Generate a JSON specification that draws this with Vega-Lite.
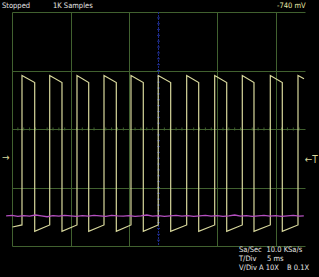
{
  "$schema": "https://vega.github.io/schema/vega-lite/v6.json",
  "width": 293,
  "height": 234,
  "autosize": "none",
  "padding": {"left": 12, "top": 12, "right": 14, "bottom": 31},
  "background": "#000000",
  "config": {"view": {"stroke": null}, "font": "'DejaVu Sans Condensed', 'Liberation Sans', sans-serif"},
  "datasets": {
    "chA": [
      {"i": 0, "x": 0.017, "y": -3.35},
      {"i": 1, "x": 0.341, "y": -3.28}, {"i": 2, "x": 0.341, "y": 1.83}, {"i": 3, "x": 0.775, "y": 1.59}, {"i": 4, "x": 0.775, "y": -3.5},
      {"i": 5, "x": 1.287, "y": -3.28}, {"i": 6, "x": 1.287, "y": 1.83}, {"i": 7, "x": 1.706, "y": 1.59}, {"i": 8, "x": 1.706, "y": -3.5},
      {"i": 9, "x": 2.218, "y": -3.28}, {"i": 10, "x": 2.218, "y": 1.83}, {"i": 11, "x": 2.618, "y": 1.59}, {"i": 12, "x": 2.618, "y": -3.5},
      {"i": 13, "x": 3.14, "y": -3.28}, {"i": 14, "x": 3.14, "y": 1.83}, {"i": 15, "x": 3.56, "y": 1.59}, {"i": 16, "x": 3.56, "y": -3.5},
      {"i": 17, "x": 4.061, "y": -3.28}, {"i": 18, "x": 4.061, "y": 1.83}, {"i": 19, "x": 4.481, "y": 1.59}, {"i": 20, "x": 4.481, "y": -3.5},
      {"i": 21, "x": 4.99, "y": -3.28}, {"i": 22, "x": 4.99, "y": 1.83}, {"i": 23, "x": 5.416, "y": 1.59}, {"i": 24, "x": 5.416, "y": -3.5},
      {"i": 25, "x": 5.962, "y": -3.28}, {"i": 26, "x": 5.962, "y": 1.83}, {"i": 27, "x": 6.372, "y": 1.59}, {"i": 28, "x": 6.372, "y": -3.5},
      {"i": 29, "x": 6.918, "y": -3.28}, {"i": 30, "x": 6.918, "y": 1.83}, {"i": 31, "x": 7.328, "y": 1.59}, {"i": 32, "x": 7.328, "y": -3.5},
      {"i": 33, "x": 7.86, "y": -3.28}, {"i": 34, "x": 7.86, "y": 1.83}, {"i": 35, "x": 8.259, "y": 1.59}, {"i": 36, "x": 8.259, "y": -3.5},
      {"i": 37, "x": 8.816, "y": -3.28}, {"i": 38, "x": 8.816, "y": 1.83}, {"i": 39, "x": 9.225, "y": 1.59}, {"i": 40, "x": 9.225, "y": -3.5},
      {"i": 41, "x": 9.761, "y": -3.28}, {"i": 42, "x": 9.761, "y": 1.83}, {"i": 43, "x": 9.966, "y": 1.72}
    ],
    "chB": [
      {"x": -0.2, "y": -2.97}, {"x": 0.0, "y": -2.95}, {"x": 0.2, "y": -2.99}, {"x": 0.4, "y": -2.96}, {"x": 0.6, "y": -2.98},
      {"x": 0.8, "y": -2.94}, {"x": 1.0, "y": -2.97}, {"x": 1.2, "y": -3.0}, {"x": 1.4, "y": -2.96}, {"x": 1.6, "y": -2.98},
      {"x": 1.8, "y": -2.95}, {"x": 2.0, "y": -2.97}, {"x": 2.2, "y": -2.99}, {"x": 2.4, "y": -2.96}, {"x": 2.6, "y": -2.98},
      {"x": 2.8, "y": -2.95}, {"x": 3.0, "y": -2.97}, {"x": 3.2, "y": -2.99}, {"x": 3.4, "y": -2.95}, {"x": 3.6, "y": -2.97},
      {"x": 3.8, "y": -2.98}, {"x": 4.0, "y": -2.96}, {"x": 4.2, "y": -2.99}, {"x": 4.4, "y": -2.97}, {"x": 4.6, "y": -2.94},
      {"x": 4.8, "y": -2.98}, {"x": 5.0, "y": -2.96}, {"x": 5.2, "y": -2.99}, {"x": 5.4, "y": -2.97}, {"x": 5.6, "y": -2.95},
      {"x": 5.8, "y": -2.98}, {"x": 6.0, "y": -2.96}, {"x": 6.2, "y": -2.99}, {"x": 6.4, "y": -2.97}, {"x": 6.6, "y": -2.95},
      {"x": 6.8, "y": -2.98}, {"x": 7.0, "y": -2.96}, {"x": 7.2, "y": -2.99}, {"x": 7.4, "y": -2.97}, {"x": 7.6, "y": -2.94},
      {"x": 7.8, "y": -2.98}, {"x": 8.0, "y": -2.96}, {"x": 8.2, "y": -2.99}, {"x": 8.4, "y": -2.97}, {"x": 8.6, "y": -2.95},
      {"x": 8.8, "y": -2.98}, {"x": 9.0, "y": -2.96}, {"x": 9.2, "y": -2.99}, {"x": 9.4, "y": -2.97}, {"x": 9.6, "y": -2.95},
      {"x": 9.8, "y": -2.98}, {"x": 9.96, "y": -2.97}
    ],
    "hticks": [
      {"t": 0.2}, {"t": 0.4}, {"t": 0.6}, {"t": 0.8}, {"t": 1.2}, {"t": 1.4}, {"t": 1.6}, {"t": 1.8},
      {"t": 2.2}, {"t": 2.4}, {"t": 2.6}, {"t": 2.8}, {"t": 3.2}, {"t": 3.4}, {"t": 3.6}, {"t": 3.8},
      {"t": 4.2}, {"t": 4.4}, {"t": 4.6}, {"t": 4.8}, {"t": 5.2}, {"t": 5.4}, {"t": 5.6}, {"t": 5.8},
      {"t": 6.2}, {"t": 6.4}, {"t": 6.6}, {"t": 6.8}, {"t": 7.2}, {"t": 7.4}, {"t": 7.6}, {"t": 7.8},
      {"t": 8.2}, {"t": 8.4}, {"t": 8.6}, {"t": 8.8}, {"t": 9.2}, {"t": 9.4}, {"t": 9.6}, {"t": 9.8}
    ],
    "vticks": [
      {"t": -3.8}, {"t": -3.6}, {"t": -3.4}, {"t": -3.2}, {"t": -3.0}, {"t": -2.8}, {"t": -2.6}, {"t": -2.4}, {"t": -2.2}, {"t": -2.0},
      {"t": -1.8}, {"t": -1.6}, {"t": -1.4}, {"t": -1.2}, {"t": -1.0}, {"t": -0.8}, {"t": -0.6}, {"t": -0.4}, {"t": -0.2},
      {"t": 0.2}, {"t": 0.4}, {"t": 0.6}, {"t": 0.8}, {"t": 1.0}, {"t": 1.2}, {"t": 1.4}, {"t": 1.6}, {"t": 1.8}, {"t": 2.0},
      {"t": 2.2}, {"t": 2.4}, {"t": 2.6}, {"t": 2.8}, {"t": 3.0}, {"t": 3.2}, {"t": 3.4}, {"t": 3.6}, {"t": 3.8}
    ],
    "whiteText": [
      {"x": -0.341, "y": 4.2, "label": "Stopped"},
      {"x": 1.399, "y": 4.2, "label": "1K Samples"},
      {"x": 7.747, "y": -4.137, "label": "Sa/Sec"},
      {"x": 8.686, "y": -4.137, "label": "10.0 KSa/s"},
      {"x": 7.747, "y": -4.455, "label": "T/Div"},
      {"x": 8.703, "y": -4.455, "label": "5 ms"},
      {"x": 7.747, "y": -4.752, "label": "V/Div"},
      {"x": 8.43, "y": -4.752, "label": "A 10X"},
      {"x": 9.386, "y": -4.752, "label": "B 0.1X"}
    ],
    "yellowText": [
      {"x": 9.044, "y": 4.22, "label": "-740 mV"}
    ],
    "markers": [
      {"x": -0.34, "y": -1.0, "label": "→"},
      {"x": 9.99, "y": -1.05, "label": "←T"}
    ]
  },
  "layer": [
    {
      "data": {"name": "chB"},
      "mark": {"type": "line", "opacity": 0},
      "encoding": {
        "x": {"field": "x", "type": "quantitative", "scale": {"domain": [0, 10], "nice": false, "zero": false},
              "axis": {"values": [0, 1, 2, 3, 4, 6, 7, 8, 9, 10], "grid": true, "gridColor": "#41612f", "gridOpacity": 1, "gridWidth": 1,
                       "domain": false, "ticks": false, "labels": false, "title": null}},
        "y": {"field": "y", "type": "quantitative", "scale": {"domain": [-4, 4], "nice": false, "zero": false},
              "axis": {"values": [-4, -3, -2, -1, 0, 1, 2, 3, 4], "grid": true, "gridColor": "#41612f", "gridOpacity": 1, "gridWidth": 1,
                       "domain": false, "ticks": false, "labels": false, "title": null}}
      }
    },
    {
      "data": {"name": "hticks"},
      "mark": {"type": "tick", "orient": "vertical", "size": 3, "thickness": 1, "color": "#41612f", "opacity": 1},
      "encoding": {
        "x": {"field": "t", "type": "quantitative"},
        "y": {"datum": 0, "type": "quantitative"}
      }
    },
    {
      "data": {"values": [{"x": 5}]},
      "mark": {"type": "rule", "color": "#1e2c8c", "strokeWidth": 1, "strokeDash": [2, 1]},
      "encoding": {"x": {"field": "x", "type": "quantitative"}}
    },
    {
      "data": {"name": "vticks"},
      "mark": {"type": "tick", "orient": "horizontal", "size": 3, "thickness": 1, "color": "#1e2c8c", "opacity": 1},
      "encoding": {
        "y": {"field": "t", "type": "quantitative"},
        "x": {"datum": 5, "type": "quantitative"}
      }
    },
    {
      "data": {"name": "chA"},
      "mark": {"type": "line", "color": "#d8d89c", "strokeWidth": 1.2},
      "encoding": {
        "x": {"field": "x", "type": "quantitative"},
        "y": {"field": "y", "type": "quantitative"},
        "order": {"field": "i", "type": "quantitative"}
      }
    },
    {
      "data": {"name": "chB"},
      "mark": {"type": "line", "color": "#b550c0", "strokeWidth": 1.3},
      "encoding": {
        "x": {"field": "x", "type": "quantitative"},
        "y": {"field": "y", "type": "quantitative"}
      }
    },
    {
      "data": {"name": "whiteText"},
      "mark": {"type": "text", "color": "#e6e6e6", "fontSize": 7.5, "align": "left", "baseline": "middle"},
      "encoding": {
        "x": {"field": "x", "type": "quantitative"},
        "y": {"field": "y", "type": "quantitative"},
        "text": {"field": "label"}
      }
    },
    {
      "data": {"name": "yellowText"},
      "mark": {"type": "text", "color": "#e8e8a8", "fontSize": 7.5, "align": "left", "baseline": "middle"},
      "encoding": {
        "x": {"field": "x", "type": "quantitative"},
        "y": {"field": "y", "type": "quantitative"},
        "text": {"field": "label"}
      }
    },
    {
      "data": {"name": "markers"},
      "mark": {"type": "text", "color": "#d8d89c", "fontSize": 10, "align": "left", "baseline": "middle"},
      "encoding": {
        "x": {"field": "x", "type": "quantitative"},
        "y": {"field": "y", "type": "quantitative"},
        "text": {"field": "label"}
      }
    }
  ]
}
